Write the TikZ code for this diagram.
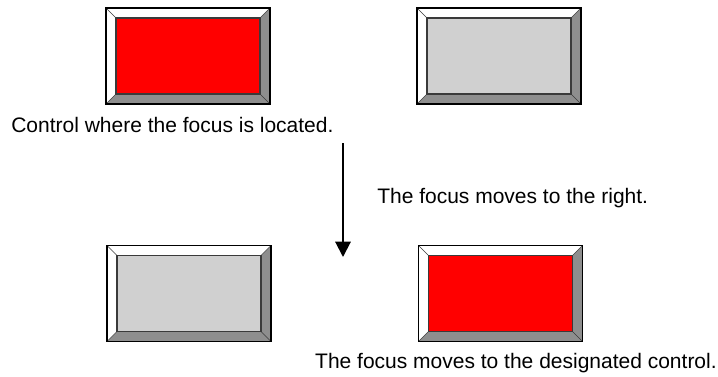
\documentclass[tikz,border=0pt]{standalone}
\usepackage{fontspec}
\setmainfont{Liberation Sans}
\usetikzlibrary{arrows.meta}
\definecolor{bevelgray}{HTML}{8E8E8E}
\definecolor{facegray}{HTML}{D0D0D0}
\definecolor{edgedark}{HTML}{3A3A3A}
\newlength{\bvl}\setlength{\bvl}{7.5pt}
\tikzset{
  btn/.style={draw=black, line width=1.4pt, fill=bevelgray,
    minimum width=123pt, minimum height=72pt, inner sep=0pt,
    path picture={
      \fill[white] (path picture bounding box.north west)
        -- (path picture bounding box.north east)
        -- ([xshift=-\bvl,yshift=-\bvl]path picture bounding box.north east)
        -- ([xshift=\bvl,yshift=-\bvl]path picture bounding box.north west)
        -- ([xshift=\bvl,yshift=\bvl]path picture bounding box.south west)
        -- (path picture bounding box.south west) -- cycle;
      \draw[edgedark, line width=0.5pt]
        (path picture bounding box.north west) -- ([xshift=\bvl,yshift=-\bvl]path picture bounding box.north west)
        (path picture bounding box.north east) -- ([xshift=-\bvl,yshift=-\bvl]path picture bounding box.north east)
        (path picture bounding box.south west) -- ([xshift=\bvl,yshift=\bvl]path picture bounding box.south west)
        (path picture bounding box.south east) -- ([xshift=-\bvl,yshift=\bvl]path picture bounding box.south east);
      \filldraw[fill=#1, draw=edgedark, line width=1.1pt]
        ([xshift=\bvl,yshift=\bvl]path picture bounding box.south west)
        rectangle ([xshift=-\bvl,yshift=-\bvl]path picture bounding box.north east);
    }},
  lbl/.style={inner sep=0pt, font=\fontsize{15.75}{18}\selectfont},
  focusarrow/.style={line width=1.5pt, -{Triangle[width=11.5pt,length=11.5pt]}}
}
\begin{document}
\begin{tikzpicture}[x=0.75pt,y=-0.75pt]
\useasboundingbox (0,0) rectangle (718,376);
\node[btn=red] (b1) at (188,56) {};
\node[btn=facegray] (b2) at (499,56) {};
\node[btn=facegray] (b3) at (189,293.5) {};
\node[btn=red] (b4) at (500.5,293.5) {};
\node[lbl, anchor=base west] (t1) at (11,132) {Control where the focus is located.};
\node[lbl, anchor=base west] (t2) at (377,203) {The focus moves to the right.};
\node[lbl, anchor=base east] (t3) at (717,368) {The focus moves to the designated control.};
\coordinate (a1) at (343,143);
\coordinate (a2) at (343,257);
\draw[focusarrow] (a1) -- (a2);
\end{tikzpicture}
\end{document}
